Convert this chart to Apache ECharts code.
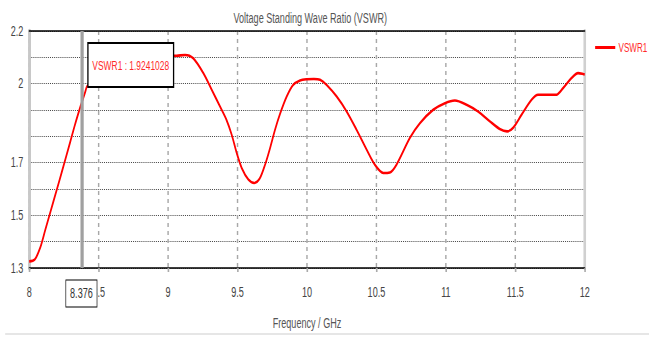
<!DOCTYPE html>
<html>
<head>
<meta charset="utf-8">
<script src="https://cdn.jsdelivr.net/npm/echarts@6/dist/echarts.min.js"></script>
<style>
html,body{margin:0;padding:0;overflow:hidden;background:#fff;width:649px;height:337px;}
#wrap{width:1000px;height:337px;transform:scaleX(0.649);transform-origin:0 0;}
</style>
</head>
<body>
<div id="wrap"></div>
<script>
// ---- data ----
const chartTitle = 'Voltage Standing Wave Ratio (VSWR)';
const xAxisName = 'Frequency / GHz';
const seriesName = 'VSWR1';
const freq = [8.000, 8.040, 8.080, 8.115, 8.150, 8.200, 8.235, 8.295, 8.330, 8.367, 8.376, 8.403, 8.417,
  8.500, 8.650, 8.800, 8.950, 9.062, 9.122, 9.180, 9.254, 9.314, 9.374, 9.420, 9.458, 9.494, 9.530,
  9.578, 9.620, 9.660, 9.700, 9.734, 9.770, 9.806, 9.854, 9.900, 9.950, 9.998, 10.050, 10.094, 10.142,
  10.214, 10.286, 10.357, 10.430, 10.489, 10.549, 10.597, 10.645, 10.741, 10.813, 10.909,
  10.993, 11.065, 11.149, 11.233, 11.317, 11.388, 11.441, 11.484, 11.545, 11.617, 11.664, 11.748,
  11.796, 11.844, 11.904, 11.952, 11.988, 12.000];
const vswr = [1.325, 1.332, 1.378, 1.443, 1.508, 1.600, 1.665, 1.778, 1.845, 1.910, 1.924, 1.968, 1.990,
  2.030, 2.070, 2.095, 2.105, 2.106, 2.109, 2.097, 2.040, 1.977, 1.913, 1.863, 1.806, 1.737, 1.680,
  1.636, 1.623, 1.640, 1.695, 1.755, 1.825, 1.885, 1.951, 1.995, 2.012, 2.017, 2.018, 2.015, 1.995,
  1.951, 1.894, 1.825, 1.749, 1.692, 1.661, 1.663, 1.693, 1.794, 1.850, 1.901,
  1.926, 1.936, 1.920, 1.894, 1.857, 1.828, 1.819, 1.832, 1.882, 1.939, 1.958, 1.958,
  1.958, 1.983, 2.021, 2.040, 2.037, 2.035];
const xTickLabels = ['8', '8.5', '9', '9.5', '10', '10.5', '11', '11.5', '12'];
const yTickLabels = ['1.3', '1.5', '1.7', '2', '2.2'];
const markerFreq = 8.376;
const markerLabel = '8.376';
const markerValueText = 'VSWR1 : 1.9241028';

// ---- chart ----
const FONT = '"Liberation Sans", Arial, sans-serif';
const el = document.getElementById('wrap');
const chart = echarts.init(el, null, {renderer: 'svg', width: 1000, height: 337});
const points = freq.map((f, i) => [f, vswr[i]]);

const option = {
  animation: false,
  backgroundColor: '#fff',
  title: {
    text: chartTitle, left: 473, top: 6, textAlign: 'center',
    textStyle: {fontFamily: FONT, fontSize: 14, fontWeight: 'normal', color: '#555'}
  },
  legend: {
    data: [{name: seriesName, icon: 'rect'}],
    left: 917, top: 41, padding: 0, itemWidth: 31, itemHeight: 3, itemGap: 10,
    textStyle: {fontFamily: FONT, fontSize: 12.5, color: '#ff2a2a', padding: 0}
  },
  grid: {left: 45, right: 99, top: 31, bottom: 69, containLabel: false},
  xAxis: [{
    type: 'value', min: 8, max: 12, interval: 0.5,
    name: xAxisName, nameLocation: 'middle', nameGap: 48,
    nameTextStyle: {fontFamily: FONT, fontSize: 14, color: '#555'},
    axisLine: {lineStyle: {color: '#000', width: 1.5}},
    axisTick: {show: true, length: 4, lineStyle: {color: '#aaa', width: 2.5}},
    axisLabel: {
      margin: 17, fontFamily: FONT, fontSize: 14, color: '#444',
      formatter: v => { const s = String(+v.toFixed(1)); return xTickLabels.includes(s) ? s : ''; }
    },
    splitLine: {show: true, lineStyle: {color: '#a8a8a8', width: 2.2, type: [4, 4]}}
  }, {
    type: 'value', position: 'top', min: 8, max: 12, interval: 0.5,
    axisLine: {show: true, lineStyle: {color: '#000', width: 1.5}},
    axisTick: {show: false}, axisLabel: {show: false}, splitLine: {show: false}
  }],
  yAxis: [{
    type: 'value', min: 1.3, max: 2.2, interval: 0.1,
    axisLine: {show: true, lineStyle: {color: '#c8c8c8', width: 4.5}},
    axisTick: {show: false},
    axisLabel: {
      margin: 9, fontFamily: FONT, fontSize: 14, color: '#444',
      formatter: v => { const s = String(+v.toFixed(1)); return yTickLabels.includes(s) ? s : ''; }
    },
    splitLine: {show: true, lineStyle: {color: '#222', width: 1, type: [1.6, 1.6]}}
  }, {
    type: 'value', position: 'right', min: 1.3, max: 2.2, interval: 0.1,
    axisLine: {show: true, lineStyle: {color: '#d0d0d0', width: 4}},
    axisTick: {show: false}, axisLabel: {show: false}, splitLine: {show: false}
  }],
  series: [{
    name: seriesName, type: 'line', data: points, smooth: 0.3,
    symbol: 'none', lineStyle: {color: '#ff0000', width: 2.6}, itemStyle: {color: '#ff0000'},
    z: 3,
    markLine: {
      silent: true, symbol: 'none', label: {show: false},
      lineStyle: {color: '#a0a0a0', width: 5, type: 'solid'},
      data: [{xAxis: markerFreq}]
    }
  }]
};
chart.setOption(option);

// annotation box & marker label positioned from the marker value
const mx = chart.convertToPixel({xAxisIndex: 0}, markerFreq);
chart.setOption({
  graphic: [
    {type: 'rect', z: 100, shape: {x: mx + 10, y: 43, width: 132, height: 44},
     style: {fill: '#ffffff', stroke: '#000', lineWidth: 2}},
    {type: 'text', z: 101, x: mx + 76, y: 65,
     style: {text: markerValueText, fill: '#ff2a2a', font: '13px ' + FONT,
             textAlign: 'center', textVerticalAlign: 'middle'}},
    {type: 'text', z: 101, x: mx, y: 293.5,
     style: {text: markerLabel, fill: '#333', font: '14px ' + FONT,
             textAlign: 'center', textVerticalAlign: 'middle',
             backgroundColor: '#fff', borderColor: '#000', borderWidth: 1, padding: [6, 6]}},
    {type: 'rect', z: 0, shape: {x: 8, y: 333, width: 992, height: 2},
     style: {fill: '#e6e6e6'}}
  ]
});
</script>
</body>
</html>
